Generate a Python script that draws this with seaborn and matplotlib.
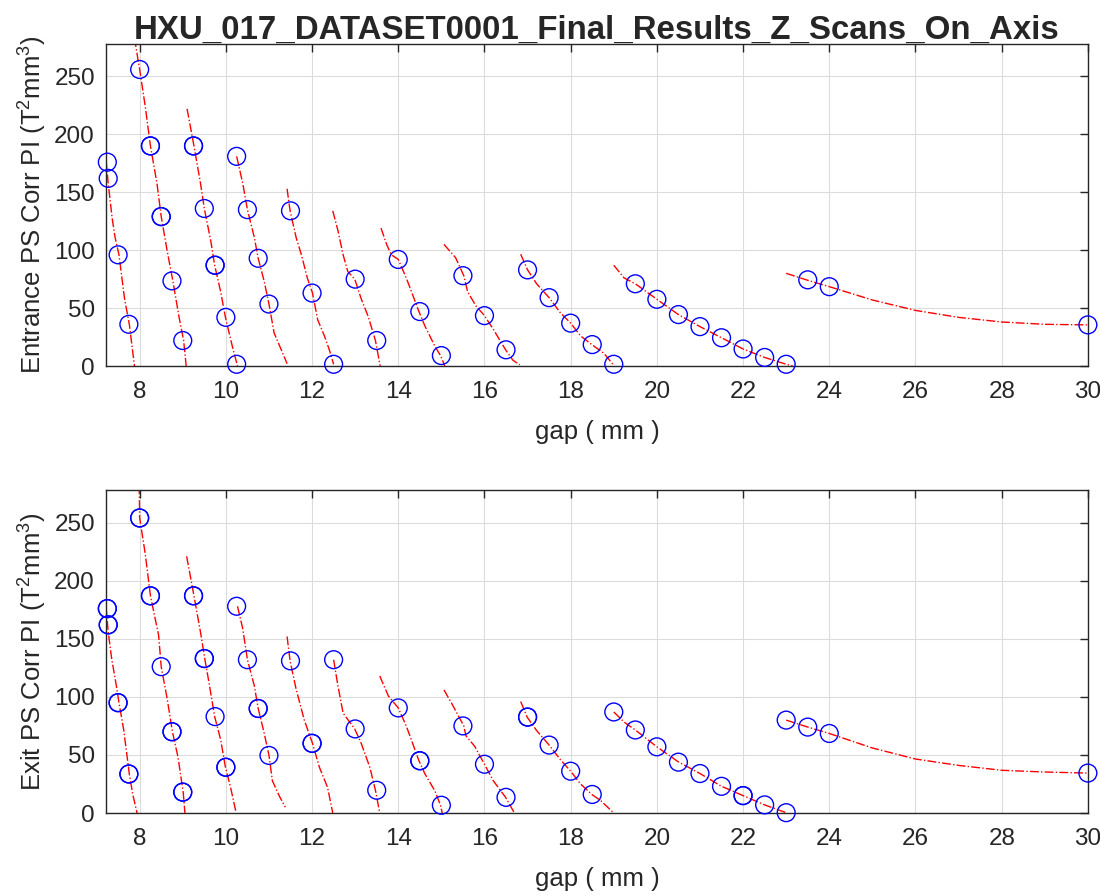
import numpy as np
import pandas as pd
import matplotlib
matplotlib.use("Agg")
import matplotlib.pyplot as plt
import seaborn as sns

# measured points (gap mm, PS corr PI T^2mm^3) -- repeated entries = overplotted scans
top_gap = [7.25, 7.27, 7.5, 7.75,
           8.0, 8.25, 8.25, 8.5, 8.5, 8.75, 9.0,
           9.25, 9.25, 9.5, 9.75, 9.75, 10.0, 10.25,
           10.25, 10.5, 10.75, 11.0,
           11.5, 12.0, 12.5,
           13.0, 13.5, 14.0, 14.5, 15.0,
           15.5, 16.0, 16.5,
           17.0, 17.5, 18.0, 18.5, 19.0,
           19.5, 20.0, 20.5, 21.0, 21.5, 22.0, 22.5, 23.0,
           23.5, 24.0, 30.0]
top_val = [176, 162, 96, 36,
           256, 190, 190, 129, 129, 73.5, 22,
           190, 190, 136, 87, 87, 42, 1.5,
           181, 135, 93, 53.5,
           134, 63, 1.5,
           75, 22, 92, 47, 9,
           78, 43.5, 14,
           83, 59, 37, 18.5, 1.5,
           71, 57.6, 44.4, 34, 24.4, 14.7, 7.4, 1.5,
           74.4, 68.5, 35.5]

bot_gap = [7.25, 7.25, 7.27, 7.27, 7.5, 7.5, 7.75, 7.75,
           8.0, 8.0, 8.25, 8.25, 8.5, 8.75, 8.75, 9.0, 9.0,
           9.25, 9.25, 9.5, 9.5, 9.75, 10.0, 10.0,
           10.25, 10.5, 10.75, 10.75, 11.0,
           11.5, 12.0, 12.0, 12.5,
           13.0, 13.5, 14.0, 14.5, 14.5, 15.0,
           15.5, 16.0, 16.5,
           17.0, 17.0, 17.5, 18.0, 18.5,
           19.0, 19.5, 20.0, 20.5, 21.0, 21.5, 22.0, 22.0, 22.5, 23.0,
           23.0, 23.5, 24.0, 30.0]
bot_val = [176, 176, 162, 162, 95, 95, 33.6, 33.6,
           254, 254, 187, 187, 126, 70, 70, 18, 18,
           187, 187, 133, 133, 83, 39.4, 39.4,
           178, 132, 90, 90, 49.6,
           131, 60, 60, 132,
           72.4, 19.6, 90.5, 45, 45, 6.7,
           75, 42, 13.5,
           82.6, 82.6, 58.5, 36, 16,
           87, 71.5, 57, 43.8, 34, 23, 15, 15, 7, 0.3,
           80, 74, 68.5, 34.4]

# fitted curves, one segment per gap period
top_fit = {
    "A": ([7.22, 7.27, 7.36, 7.43, 7.52, 7.65, 7.76, 7.88],
          [178, 158, 128, 111, 96, 58, 36, 0]),
    "B": ([7.88, 8.0, 8.13, 8.25, 8.40, 8.5, 8.64, 8.77, 8.91, 9.02, 9.08],
          [283, 256, 224, 190, 158, 129, 99, 73.5, 43, 22, 0]),
    "C": ([9.1, 9.26, 9.41, 9.5, 9.65, 9.74, 9.88, 9.99, 10.15, 10.27],
          [222, 190, 158, 136, 108, 87, 64, 42, 17, 0]),
    "D": ([10.25, 10.39, 10.5, 10.66, 10.75, 10.89, 11.0, 11.12, 11.32, 11.42],
          [181, 158, 135, 111, 93, 73, 53.5, 28.5, 11, 2]),
    "E": ([11.42, 11.49, 11.63, 11.76, 11.89, 12.01, 12.13, 12.29, 12.4, 12.5],
          [153, 134, 111, 95, 76, 63, 40, 25.6, 14, 1.5]),
    "F": ([12.48, 12.6, 12.72, 12.83, 12.99, 13.14, 13.3, 13.47, 13.58],
          [134, 117, 96, 81.5, 75, 58, 43, 22, 0]),
    "G": ([13.6, 13.73, 13.84, 14.0, 14.19, 14.48, 14.62, 14.85, 14.98, 15.08],
          [119, 105, 96, 92, 75.6, 47, 34.4, 17, 9, 0]),
    "H": ([15.06, 15.33, 15.52, 15.61, 15.8, 16.0, 16.2, 16.49, 16.66, 16.82],
          [105, 93.5, 78, 64, 52, 43.5, 32, 14, 5, 1]),
    "I": ([16.84, 17.0, 17.21, 17.5, 17.76, 18.0, 18.23, 18.49, 18.77, 18.98],
          [96.5, 83, 71, 59, 46, 37, 26, 18.5, 11, 1.5]),
    "J": ([19.0, 19.24, 19.5, 20.0, 20.5, 21.0, 21.5, 22.0, 22.5, 23.0, 23.15],
          [87, 76, 71, 57.6, 44.4, 34, 24.4, 14.7, 7.4, 1.5, 0]),
    "K": ([23.0, 23.5, 24.0, 25.0, 26.0, 27.0, 28.0, 29.0, 30.0],
          [80, 74, 68.5, 57, 48, 42, 38, 36, 35.5]),
}
bot_fit = {
    "A": ([7.22, 7.27, 7.35, 7.46, 7.52, 7.63, 7.76, 7.84, 7.94],
          [178, 156, 133, 109.5, 95, 71.5, 33.6, 16, 0]),
    "B": ([7.99, 8.0, 8.13, 8.25, 8.44, 8.5, 8.64, 8.76, 8.89, 9.01, 9.05],
          [282, 254, 223, 187, 153, 126, 98, 70, 48, 18, 0]),
    "C": ([9.09, 9.26, 9.41, 9.51, 9.61, 9.74, 9.88, 9.99, 10.11, 10.23],
          [221, 187, 156, 133, 112, 83, 63, 39.4, 22, 1.5]),
    "D": ([10.27, 10.39, 10.5, 10.66, 10.75, 10.89, 11.0, 11.08, 11.24, 11.38],
          [178, 159, 132, 109.5, 90, 68.6, 49.6, 27.7, 14.6, 5]),
    "E": ([11.42, 11.49, 11.63, 11.82, 12.01, 12.17, 12.36, 12.48],
          [152, 131, 106.6, 80, 60, 39.4, 22, 0]),
    "F": ([12.5, 12.6, 12.72, 12.99, 13.14, 13.34, 13.47, 13.57],
          [132, 109.5, 86, 72.4, 60, 39.4, 19.6, 0]),
    "G": ([13.57, 13.77, 14.0, 14.19, 14.48, 14.62, 14.85, 14.98, 15.02],
          [118, 100.8, 90.5, 74.5, 45, 33.6, 19, 6.7, 0]),
    "H": ([15.06, 15.26, 15.52, 15.57, 15.77, 16.0, 16.2, 16.49, 16.69],
          [106, 93, 75, 66.5, 57.6, 42, 28, 13.5, 0.3]),
    "I": ([16.84, 16.99, 17.21, 17.5, 17.76, 18.0, 18.23, 18.49, 18.7, 18.99],
          [96, 82.6, 71, 58.5, 46, 36, 25, 16, 10.6, 0.3]),
    "J": ([19.0, 19.25, 19.5, 20.0, 20.5, 21.0, 21.5, 22.0, 22.5, 23.0],
          [87, 78, 71.5, 57, 44, 34, 23, 15, 7, 0.3]),
    "K": ([23.0, 23.5, 24.0, 25.0, 26.0, 27.0, 28.0, 29.0, 30.0],
          [80, 74, 68.5, 56, 46.5, 41, 36.8, 35.3, 34.4]),
}

sns.set_style("white")
plt.rcParams['font.family'] = ['Liberation Sans', 'DejaVu Sans']
plt.rcParams['mathtext.fontset'] = 'custom'
plt.rcParams['mathtext.rm'] = 'Liberation Sans'
plt.rcParams['mathtext.it'] = 'Liberation Sans'

fig = plt.figure(figsize=(11, 8.96), dpi=100)
ax1 = fig.add_axes([0.0964, 0.5915, 0.8926, 0.3594])
ax2 = fig.add_axes([0.0964, 0.0926, 0.8926, 0.3604])


def fit_frame(fits):
    rows = []
    for name, (g, v) in fits.items():
        for a, b in zip(g, v):
            rows.append((name, a, b))
    return pd.DataFrame(rows, columns=["seg", "gap", "val"])


def draw(ax, gaps, vals, fits, ylab):
    sns.lineplot(data=fit_frame(fits), x="gap", y="val", units="seg",
                 estimator=None, sort=False, color="red", linestyle="-.",
                 linewidth=1.0, ax=ax)
    sns.scatterplot(x=gaps, y=vals, marker="o", s=165, facecolor="none",
                    edgecolor="blue", linewidth=1.0, ax=ax, zorder=3)
    for coll in ax.collections:
        coll.set_clip_on(False)
    ax.set_xlim(7.22, 30)
    ax.set_ylim(0, 278)
    ax.set_xticks(np.arange(8, 31, 2))
    ax.set_yticks(np.arange(0, 251, 50))
    ax.grid(True, color="#dcdcdc", linewidth=0.8)
    ax.set_axisbelow(True)
    for sp in ax.spines.values():
        sp.set_color("#262626")
        sp.set_linewidth(1.0)
    ax.tick_params(direction="in", top=True, right=True, length=6,
                   width=1.0, color="#262626", labelsize=17.5,
                   labelcolor="#262626")
    ax.tick_params(axis="x", pad=11)
    ax.tick_params(axis="y", pad=8)
    ax.set_xlabel("gap ( mm )", fontsize=18.5, color="#262626", labelpad=12)
    ax.set_ylabel(ylab, fontsize=18.5, color="#262626", labelpad=4)


draw(ax1, top_gap, top_val, top_fit, r"Entrance PS Corr PI (T$^2$mm$^3$)")
draw(ax2, bot_gap, bot_val, bot_fit, r"Exit PS Corr PI (T$^2$mm$^3$)")

ax1.set_title("HXU_017_DATASET0001_Final_Results_Z_Scans_On_Axis",
              fontsize=23.8, fontweight="bold", pad=4)

fig.savefig("out.png", dpi=100)
